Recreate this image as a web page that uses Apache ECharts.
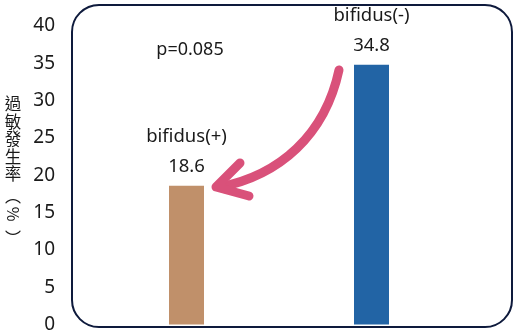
<!DOCTYPE html>
<html><head><meta charset="utf-8">
<script src="https://cdn.jsdelivr.net/npm/echarts@6/dist/echarts.min.js"></script>
<style>html,body{margin:0;padding:0;background:#fff}#c{width:520px;height:334px}</style>
</head><body><div id="c"></div>
<script>
const categories = ["bifidus(+)", "bifidus(-)"];
const values = [18.6, 34.8];
const barColors = ["#C0906A", "#2264A5"];
const yTicks = [0, 5, 10, 15, 20, 25, 30, 35, 40];
const yTitle = "過敏發生率";
const yUnitOpen = "︵", yUnit = "%", yUnitClose = "︶";
const pText = "p=0.085";

const FONT = "'Noto Sans', 'Noto Sans CJK TC', sans-serif";
const CJK = "'Noto Sans CJK TC', sans-serif";
const txt = (s, x, y, size, extra) => Object.assign({
  type: 'text', x: x, y: y,
  style: { text: s, fontSize: size, fill: '#1a1a1a', align: 'center', verticalAlign: 'middle', fontFamily: CJK }
}, extra || {});
const titleChars = yTitle.split('').map((ch, i) => txt(ch, 13, 104 + i * 17.5, 16.5));
const chart = echarts.init(document.getElementById('c'));
chart.setOption({
  animation: false,
  grid: { left: 94, right: 56, top: 26, bottom: 7 },
  xAxis: {
    type: 'category', data: categories,
    axisLine: { show: false }, axisTick: { show: false }, axisLabel: { show: false }
  },
  yAxis: {
    type: 'value', min: yTicks[0], max: yTicks[yTicks.length - 1], interval: 5,
    splitLine: { show: false }, axisLine: { show: false }, axisTick: { show: false },
    axisLabel: { margin: 39, color: '#1a1a1a', fontSize: 19, fontFamily: FONT }
  },
  series: [{
    type: 'bar', barWidth: 35,
    data: values.map((v, i) => ({ value: v, itemStyle: { color: barColors[i] } })),
    label: {
      show: true, position: 'top', distance: 4,
      formatter: '{b}\n{c}', color: '#1a1a1a', fontSize: 18.5, lineHeight: 30, fontFamily: FONT
    }
  }],
  graphic: [
    { type: 'rect', z: 10, silent: true,
      shape: { x: 72, y: 5, width: 440, height: 322, r: 27 },
      style: { fill: 'none', stroke: '#0E1A3C', lineWidth: 2 } },
    { type: 'text', x: 190, y: 50,
      style: { text: pText, fontSize: 18, fill: '#1a1a1a', align: 'center', verticalAlign: 'middle', fontFamily: FONT } },
    ...titleChars,
    txt(yUnitOpen, 13, 196, 16),
    txt(yUnit, 13, 214, 16, { rotation: -Math.PI / 2 }),
    txt(yUnitClose, 13, 238, 16),
    { type: 'bezierCurve', z: 20,
      shape: { x1: 339, y1: 70, cpx1: 325, cpy1: 135, cpx2: 280, cpy2: 175, x2: 220, y2: 187 },
      style: { stroke: '#D9517A', lineWidth: 9, lineCap: 'round', fill: 'none' } },
    { type: 'polyline', z: 20,
      shape: { points: [[240, 163], [216, 187], [249, 196]] },
      style: { stroke: '#D9517A', lineWidth: 9, lineCap: 'round', lineJoin: 'round', fill: 'none' } }
  ]
});
</script></body></html>
